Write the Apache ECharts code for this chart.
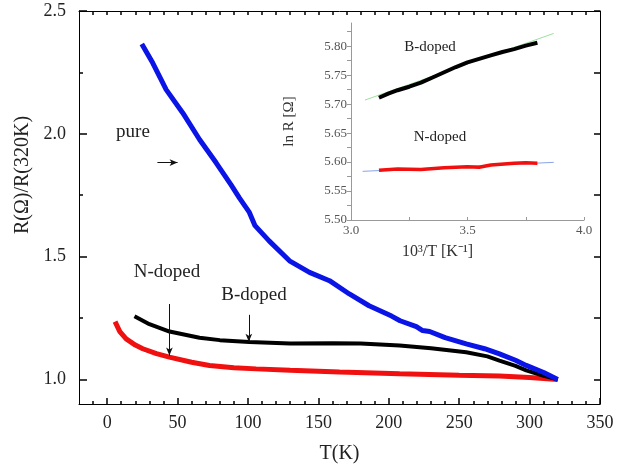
<!DOCTYPE html>
<html>
<head>
<meta charset="utf-8">
<script src="https://cdn.jsdelivr.net/npm/echarts@6/dist/echarts.min.js"></script>
<style>html,body{margin:0;padding:0;background:#fff}#c{width:618px;height:476px}</style>
</head>
<body>
<div id="c"></div>
<script>
// ---- main panel data: T (K) and R/R(320K)
const T_pure = [24.6, 32.4, 41.9, 53.7, 65.6, 77.4, 88, 94, 101, 105, 115, 129.5, 143.7, 157.9, 172, 186, 202, 208, 219.6, 224, 229, 240, 255, 268, 278.6, 290, 297.6, 310, 320];
const R_pure = [2.366, 2.288, 2.180, 2.085, 1.977, 1.882, 1.792, 1.738, 1.680, 1.626, 1.564, 1.483, 1.436, 1.402, 1.348, 1.300, 1.258, 1.239, 1.215, 1.199, 1.195, 1.170, 1.145, 1.125, 1.104, 1.078, 1.057, 1.028, 1.000];
const T_B = [19.4, 30, 44.3, 65.6, 80, 101, 130, 160, 180, 207.7, 230, 255, 270, 278.6, 290, 297.6, 310, 320];
const R_B = [1.257, 1.225, 1.195, 1.170, 1.160, 1.152, 1.146, 1.147, 1.146, 1.138, 1.127, 1.111, 1.094, 1.077, 1.055, 1.037, 1.015, 1.000];
const T_N = [5.6, 9, 13.5, 20, 25.3, 35, 44.2, 60, 72.7, 90, 105.8, 130, 165, 207.7, 250, 278.6, 300, 320];
const R_N = [1.235, 1.195, 1.165, 1.140, 1.125, 1.105, 1.091, 1.070, 1.057, 1.048, 1.043, 1.037, 1.030, 1.023, 1.017, 1.014, 1.008, 1.000];

// ---- inset data: 10^3/T and ln R
const X_Bin = [3.12, 3.16, 3.20, 3.25, 3.30, 3.35, 3.40, 3.45, 3.50, 3.55, 3.60, 3.65, 3.70, 3.75, 3.80];
const Y_Bin = [5.711, 5.718, 5.724, 5.730, 5.737, 5.746, 5.755, 5.764, 5.772, 5.778, 5.784, 5.790, 5.795, 5.801, 5.806];
const X_Bfit = [3.06, 3.87];
const Y_Bfit = [5.707, 5.822];
const X_Nin = [3.12, 3.20, 3.30, 3.40, 3.50, 3.55, 3.60, 3.70, 3.75, 3.80];
const Y_Nin = [5.586, 5.588, 5.587, 5.590, 5.592, 5.591, 5.595, 5.598, 5.599, 5.598];
const X_Nfit = [3.05, 3.87];
const Y_Nfit = [5.584, 5.5995];

// ---- tick labels
const xMajor = [0, 50, 100, 150, 200, 250, 300, 350];
const yMajor = [1.0, 1.5, 2.0, 2.5];
const yMinor = [1.25, 1.75, 2.25];
const insetYLabels = [5.50, 5.55, 5.60, 5.65, 5.70, 5.75, 5.80];

const zip = (a, b) => a.map((v, i) => [v, b[i]]);
const xMinor = [];
for (let v = -10; v <= 340; v += 10) if (v % 50 !== 0) xMinor.push(v);
const xTop = [];
for (let v = -10; v <= 340; v += 10) xTop.push(v);
const yRight = [1.0, 1.25, 1.5, 1.75, 2.0, 2.25, 2.5];
const insetYTicks = [];
for (let k = 0; k <= 13; k++) insetYTicks.push(+(5.50 + k * 0.025).toFixed(3));

const FONT = 'Liberation Serif';
const TK = {color: '#000', width: 1.5};
const chart = echarts.init(document.getElementById('c'), null, {renderer: 'canvas'});

const option = {
  animation: false,
  backgroundColor: '#fff',
  grid: [
    {left: 79, right: 18, top: 11, bottom: 72},
    {left: 351, top: 23, width: 233, height: 197}
  ],
  xAxis: [
    {gridIndex: 0, type: 'value', position: 'bottom', min: -20, max: 350,
     name: 'T(K)', nameLocation: 'middle', nameGap: 40,
     nameTextStyle: {fontFamily: FONT, fontSize: 20, color: '#222'},
     axisLine: {show: true, onZero: false, lineStyle: {color: '#000', width: 1}},
     axisTick: {show: true, inside: true, length: 6, customValues: xMajor, lineStyle: TK},
     axisLabel: {show: true, customValues: xMajor, margin: 10, fontFamily: FONT, fontSize: 18, color: '#222'},
     splitLine: {show: false}},
    {gridIndex: 0, type: 'value', position: 'bottom', min: -20, max: 350,
     axisLine: {show: false, onZero: false},
     axisTick: {show: true, inside: true, length: 3, customValues: xMinor, lineStyle: TK},
     axisLabel: {show: false}, splitLine: {show: false}},
    {gridIndex: 0, type: 'value', position: 'top', min: -20, max: 350,
     axisLine: {show: true, onZero: false, lineStyle: {color: '#000', width: 1}},
     axisTick: {show: true, inside: true, length: 4, customValues: xTop, lineStyle: TK},
     axisLabel: {show: false}, splitLine: {show: false}},
    {gridIndex: 1, type: 'value', min: 3.0, max: 4.0, interval: 0.25,
     name: '10³/T [K⁻¹]', nameLocation: 'middle', nameGap: 24,
     nameTextStyle: {fontFamily: FONT, fontSize: 16, color: '#333', padding: [0, 60, 0, 0]},
     axisLine: {show: true, onZero: false, lineStyle: {color: '#999', width: 1}},
     axisTick: {show: true, inside: true, length: 3, lineStyle: {color: '#999'}},
     axisLabel: {show: true, margin: 4, fontFamily: FONT, fontSize: 13, color: '#555',
       formatter: v => (Math.abs(v * 2 - Math.round(v * 2)) < 1e-6 ? v.toFixed(1) : '')},
     splitLine: {show: false}}
  ],
  yAxis: [
    {gridIndex: 0, type: 'value', position: 'left', min: 0.9, max: 2.5,
     name: 'R(Ω)/R(320K)', nameLocation: 'middle', nameGap: 44,
     nameTextStyle: {fontFamily: FONT, fontSize: 20, color: '#222', padding: [0, 0, 0, 65]},
     axisLine: {show: true, onZero: false, lineStyle: {color: '#000', width: 1}},
     axisTick: {show: true, inside: true, length: 8, customValues: yMajor, lineStyle: TK},
     axisLabel: {show: true, customValues: yMajor, margin: 13, fontFamily: FONT, fontSize: 18, color: '#222', formatter: v => v.toFixed(1)},
     splitLine: {show: false}},
    {gridIndex: 0, type: 'value', position: 'left', min: 0.9, max: 2.5,
     axisLine: {show: false, onZero: false},
     axisTick: {show: true, inside: true, length: 4, customValues: yMinor, lineStyle: TK},
     axisLabel: {show: false}, splitLine: {show: false}},
    {gridIndex: 0, type: 'value', position: 'right', min: 0.9, max: 2.5,
     axisLine: {show: true, onZero: false, lineStyle: {color: '#000', width: 1}},
     axisTick: {show: true, inside: true, length: 6, customValues: yRight, lineStyle: TK},
     axisLabel: {show: false}, splitLine: {show: false}},
    {gridIndex: 1, type: 'value', min: 5.50, max: 5.84,
     name: 'ln R [Ω]', nameLocation: 'middle', nameGap: 54,
     nameTextStyle: {fontFamily: FONT, fontSize: 15, color: '#333'},
     axisLine: {show: true, onZero: false, lineStyle: {color: '#999', width: 1}},
     axisTick: {show: true, inside: false, length: 4, customValues: insetYTicks, lineStyle: {color: '#999'}},
     axisLabel: {show: true, customValues: insetYLabels, margin: 4, fontFamily: FONT, fontSize: 13, color: '#555', formatter: v => v.toFixed(2)},
     splitLine: {show: false}}
  ],
  series: [
    {name: 'pure', type: 'line', xAxisIndex: 0, yAxisIndex: 0, data: zip(T_pure, R_pure),
     showSymbol: false, lineStyle: {color: '#0a14e6', width: 5}, z: 3,
     markLine: {silent: true, symbol: ['none', 'arrow'], symbolSize: [5, 8], label: {show: false},
       lineStyle: {color: '#111', width: 1, type: 'solid'},
       data: [[{coord: [35.7, 1.883]}, {coord: [50, 1.883]}]]}},
    {name: 'B-doped', type: 'line', xAxisIndex: 0, yAxisIndex: 0, data: zip(T_B, R_B),
     showSymbol: false, lineStyle: {color: '#000', width: 4}, z: 2,
     markLine: {silent: true, symbol: ['none', 'arrow'], symbolSize: [5, 8], label: {show: false},
       lineStyle: {color: '#111', width: 1, type: 'solid'},
       data: [[{coord: [100.6, 1.263]}, {coord: [100.6, 1.153]}]]}},
    {name: 'N-doped', type: 'line', xAxisIndex: 0, yAxisIndex: 0, data: zip(T_N, R_N),
     showSymbol: false, lineStyle: {color: '#f01010', width: 5}, z: 1,
     markLine: {silent: true, symbol: ['none', 'arrow'], symbolSize: [5, 8], label: {show: false},
       lineStyle: {color: '#111', width: 1, type: 'solid'},
       data: [[{coord: [44.2, 1.307]}, {coord: [44.2, 1.097]}]]}},
    {name: 'B fit', type: 'line', xAxisIndex: 3, yAxisIndex: 3, data: zip(X_Bfit, Y_Bfit),
     showSymbol: false, lineStyle: {color: '#9ee09e', width: 1}, z: 4},
    {name: 'B-doped inset', type: 'line', xAxisIndex: 3, yAxisIndex: 3, data: zip(X_Bin, Y_Bin),
     showSymbol: false, lineStyle: {color: '#000', width: 4}, z: 5},
    {name: 'N fit', type: 'line', xAxisIndex: 3, yAxisIndex: 3, data: zip(X_Nfit, Y_Nfit),
     showSymbol: false, lineStyle: {color: '#8aa4e6', width: 1}, z: 4},
    {name: 'N-doped inset', type: 'line', xAxisIndex: 3, yAxisIndex: 3, data: zip(X_Nin, Y_Nin),
     showSymbol: false, lineStyle: {color: '#f01010', width: 3.5}, z: 5}
  ],
  graphic: [
    {type: 'text', x: 133, y: 132, style: {text: 'pure', fontFamily: FONT, fontSize: 19, fill: '#222', align: 'center', verticalAlign: 'middle'}},
    {type: 'text', x: 167, y: 272, style: {text: 'N-doped', fontFamily: FONT, fontSize: 19, fill: '#222', align: 'center', verticalAlign: 'middle'}},
    {type: 'text', x: 254, y: 295, style: {text: 'B-doped', fontFamily: FONT, fontSize: 19, fill: '#222', align: 'center', verticalAlign: 'middle'}},
    {type: 'text', x: 430, y: 47, style: {text: 'B-doped', fontFamily: FONT, fontSize: 15, fill: '#222', align: 'center', verticalAlign: 'middle'}},
    {type: 'text', x: 440, y: 137, style: {text: 'N-doped', fontFamily: FONT, fontSize: 15, fill: '#222', align: 'center', verticalAlign: 'middle'}}
  ]
};
chart.setOption(option);
</script>
</body>
</html>
